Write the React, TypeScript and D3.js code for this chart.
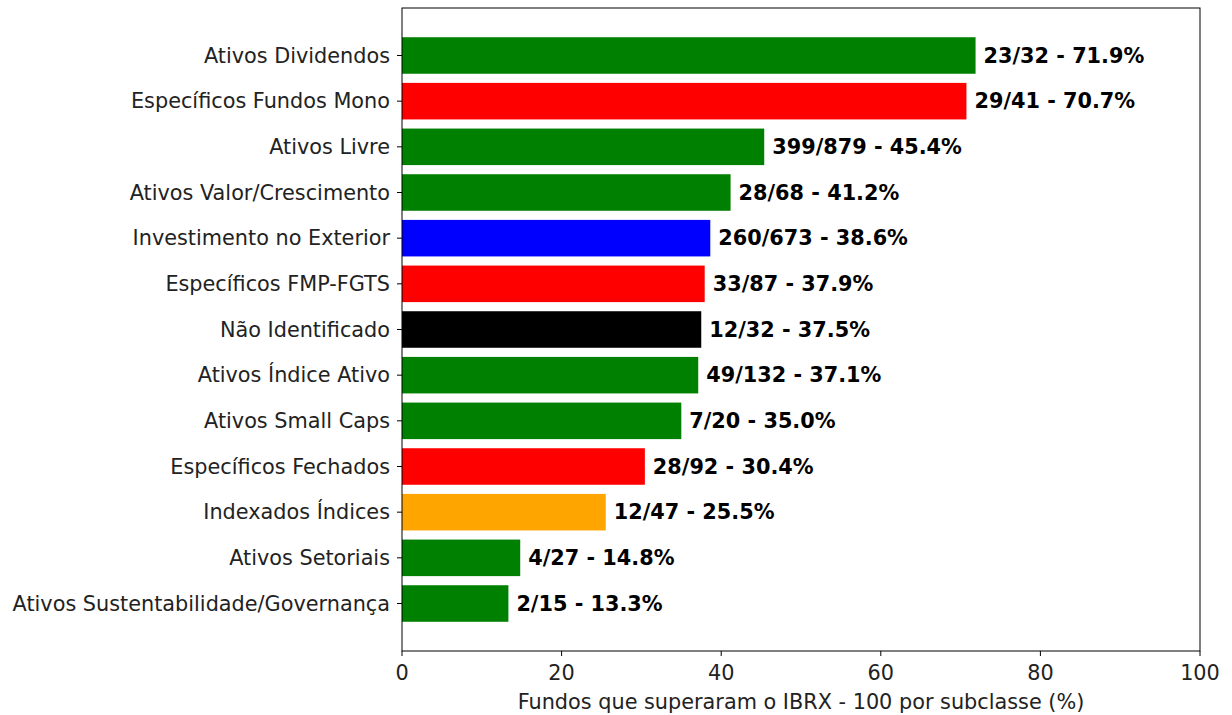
import React from "react";
import * as d3 from "d3";

const categories = [
  "Ativos Dividendos",
  "Específicos Fundos Mono",
  "Ativos Livre",
  "Ativos Valor/Crescimento",
  "Investimento no Exterior",
  "Específicos FMP-FGTS",
  "Não Identificado",
  "Ativos Índice Ativo",
  "Ativos Small Caps",
  "Específicos Fechados",
  "Indexados Índices",
  "Ativos Setoriais",
  "Ativos Sustentabilidade/Governança",
];
const winners = [23, 29, 399, 28, 260, 33, 12, 49, 7, 28, 12, 4, 2];
const totals = [32, 41, 879, 68, 673, 87, 32, 132, 20, 92, 47, 27, 15];
const colors = [
  "green", "red", "green", "green", "blue", "red", "black",
  "green", "green", "red", "orange", "green", "green",
];
const xTicks = [0, 20, 40, 60, 80, 100];

export default function App() {
  const W = 1232, H = 715;
  const left = 402, right = 1200, top = 8, bottom = 651;
  const x = d3.scaleLinear().domain([0, 100]).range([left, right]);
  const n = categories.length;
  const y = d3.scaleLinear().domain([-1.04, n - 1 + 1.04]).range([top, bottom]);
  const bh = (y(0.4) - y(-0.4));
  const font = "DejaVu Sans, sans-serif";
  const fs = 20.8;
  return (
    <svg width={W} height={H} style={{ position: "absolute", left: 0, top: 0 }} fontFamily={font}>
      <rect width={W} height={H} fill="white" />
      {categories.map((c, i) => {
        const pct = (winners[i] / totals[i]) * 100;
        return (
          <g key={c}>
            <rect x={x(0)} y={y(i) - bh / 2} width={x(pct) - x(0)} height={bh} fill={colors[i]} />
            <text x={x(pct) + 8} y={y(i)} dy="0.35em" fontSize={fs} fontWeight="bold" fill="black">
              {`${winners[i]}/${totals[i]} - ${pct.toFixed(1)}%`}
            </text>
            <line x1={left - 5} x2={left} y1={y(i)} y2={y(i)} stroke="black" strokeWidth={1} />
            <text x={left - 12} y={y(i)} dy="0.35em" textAnchor="end" fontSize={fs} fill="#222">
              {c}
            </text>
          </g>
        );
      })}
      <rect x={left} y={top} width={right - left} height={bottom - top} fill="none" stroke="black" strokeWidth={1} />
      {xTicks.map((t) => (
        <g key={t}>
          <line x1={x(t)} x2={x(t)} y1={bottom} y2={bottom + 5} stroke="black" />
          <text x={x(t)} y={bottom + 29} textAnchor="middle" fontSize={fs} fill="#222">{t}</text>
        </g>
      ))}
      <text x={(left + right) / 2} y={bottom + 58} textAnchor="middle" fontSize={fs} fill="#222">
        Fundos que superaram o IBRX - 100 por subclasse (%)
      </text>
    </svg>
  );
}
